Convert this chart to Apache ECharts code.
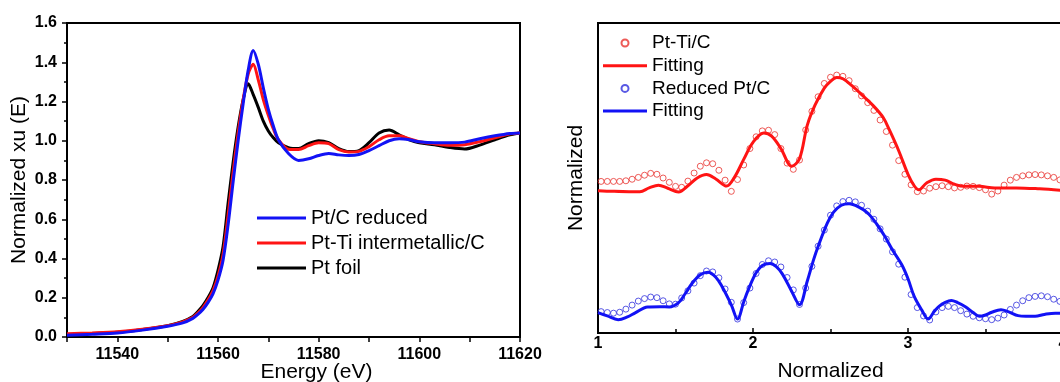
<!DOCTYPE html>
<html>
<head>
<meta charset="utf-8">
<script src="https://cdn.jsdelivr.net/npm/echarts@6/dist/echarts.min.js"></script>
<style>
  html, body { margin: 0; background: #fff; }
  #chart { width: 1060px; height: 382px; }
</style>
</head>
<body>
<div id="chart"></div>
<script>
// left panel: XANES, energy in eV
const energy = [11530, 11535, 11540, 11545, 11550, 11553, 11555, 11556, 11557, 11558, 11559, 11560,
  11561, 11562, 11563, 11564, 11565, 11566, 11567, 11568, 11569, 11570, 11571, 11572, 11574, 11576,
  11578, 11580, 11582, 11584, 11586, 11588, 11590, 11592, 11594, 11596, 11598, 11600, 11603, 11606,
  11609, 11612, 11615, 11618, 11620];
const ptFoil = [0.012, 0.018, 0.024, 0.038, 0.058, 0.080, 0.105, 0.130, 0.160, 0.200, 0.250, 0.340,
  0.460, 0.680, 0.890, 1.070, 1.210, 1.290, 1.235, 1.170, 1.100, 1.050, 1.015, 0.990, 0.965, 0.960,
  0.985, 1.000, 0.990, 0.960, 0.945, 0.950, 0.990, 1.040, 1.055, 1.030, 1.005, 0.990, 0.980, 0.966,
  0.958, 0.978, 1.005, 1.030, 1.040];
const ptTi = [0.017, 0.021, 0.027, 0.040, 0.058, 0.077, 0.100, 0.122, 0.150, 0.188, 0.235, 0.310,
  0.420, 0.620, 0.840, 1.040, 1.210, 1.340, 1.390, 1.310, 1.210, 1.130, 1.060, 1.005, 0.957, 0.955,
  0.975, 0.990, 0.985, 0.955, 0.943, 0.946, 0.970, 1.005, 1.025, 1.025, 1.010, 0.995, 0.985, 0.977,
  0.980, 0.995, 1.015, 1.035, 1.040];
const ptcReduced = [0.009, 0.014, 0.020, 0.035, 0.055, 0.072, 0.095, 0.115, 0.140, 0.175, 0.220, 0.290,
  0.390, 0.570, 0.790, 1.000, 1.190, 1.360, 1.460, 1.390, 1.270, 1.160, 1.075, 1.005, 0.935, 0.900,
  0.908, 0.925, 0.935, 0.928, 0.925, 0.930, 0.950, 0.975, 1.000, 1.010, 1.005, 0.995, 0.990, 0.990,
  0.993, 1.010, 1.025, 1.037, 1.040];

// right panel: measured points (circles)
const kData = [1.02, 1.06, 1.10, 1.14, 1.18, 1.22, 1.26, 1.30, 1.34, 1.38, 1.42, 1.46, 1.50, 1.54,
  1.58, 1.62, 1.66, 1.70, 1.74, 1.78, 1.82, 1.86, 1.90, 1.94, 1.98, 2.02, 2.06, 2.10, 2.14, 2.18,
  2.22, 2.26, 2.30, 2.34, 2.38, 2.42, 2.46, 2.50, 2.54, 2.58, 2.62, 2.66, 2.70, 2.74, 2.78, 2.82,
  2.86, 2.90, 2.94, 2.98, 3.02, 3.06, 3.10, 3.14, 3.18, 3.22, 3.26, 3.30, 3.34, 3.38, 3.42, 3.46,
  3.50, 3.54, 3.58, 3.62, 3.66, 3.70, 3.74, 3.78, 3.82, 3.86, 3.90, 3.94, 3.98];
const ptTiPts = [4.89, 4.89, 4.89, 4.89, 4.91, 4.96, 5.02, 5.09, 5.15, 5.12, 5.00, 4.86, 4.73, 4.70,
  4.90, 5.16, 5.38, 5.49, 5.46, 5.25, 4.93, 4.57, 4.95, 5.42, 5.95, 6.33, 6.52, 6.54, 6.40, 5.95,
  5.48, 5.28, 5.58, 6.55, 7.15, 7.62, 8.05, 8.25, 8.32, 8.28, 8.14, 7.88, 7.65, 7.43, 7.18, 6.87,
  6.50, 6.06, 5.56, 5.12, 4.78, 4.56, 4.58, 4.67, 4.72, 4.75, 4.72, 4.68, 4.70, 4.74, 4.73, 4.69,
  4.62, 4.48, 4.58, 4.77, 4.93, 5.02, 5.07, 5.10, 5.11, 5.10, 5.07, 5.02, 4.94];
const ptcPts = [0.69, 0.66, 0.64, 0.67, 0.77, 0.90, 1.03, 1.11, 1.16, 1.14, 1.04, 0.94, 0.93, 1.13,
  1.36, 1.61, 1.85, 2.00, 1.97, 1.78, 1.42, 0.99, 0.45, 0.98, 1.45, 1.92, 2.21, 2.33, 2.29, 2.13,
  1.79, 1.39, 0.92, 1.45, 2.15, 2.80, 3.32, 3.80, 4.10, 4.24, 4.28, 4.23, 4.12, 3.93, 3.67, 3.36,
  3.03, 2.62, 2.22, 1.80, 1.24, 0.82, 0.55, 0.42, 0.68, 0.82, 0.86, 0.82, 0.72, 0.61, 0.54, 0.49,
  0.46, 0.43, 0.48, 0.58, 0.76, 0.90, 1.04, 1.14, 1.18, 1.20, 1.17, 1.09, 1.02];

// right panel: fitted curves
const ptTiFitK = [1.00, 1.10, 1.20, 1.27, 1.33, 1.39, 1.45, 1.52, 1.58, 1.64, 1.70, 1.76, 1.83, 1.88,
  1.94, 2.00, 2.07, 2.12, 2.18, 2.25, 2.30, 2.35, 2.40, 2.46, 2.50, 2.54, 2.58, 2.64, 2.72, 2.78,
  2.84, 2.88, 2.94, 3.00, 3.04, 3.07, 3.12, 3.18, 3.24, 3.30, 3.36, 3.46, 3.56, 3.70, 3.85, 4.00];
const ptTiFit = [4.59, 4.57, 4.56, 4.56, 4.68, 4.77, 4.67, 4.55, 4.75, 5.00, 5.11, 4.97, 4.74, 5.02,
  5.60, 6.15, 6.45, 6.35, 5.95, 5.38, 5.62, 6.70, 7.35, 7.90, 8.12, 8.24, 8.20, 7.97, 7.60, 7.31,
  6.95, 6.55, 5.88, 5.12, 4.75, 4.62, 4.84, 4.96, 4.93, 4.80, 4.73, 4.73, 4.68, 4.68, 4.65, 4.60];
const ptcFitK = [1.00, 1.06, 1.13, 1.19, 1.24, 1.32, 1.40, 1.46, 1.52, 1.56, 1.61, 1.66, 1.71, 1.76,
  1.80, 1.86, 1.90, 1.94, 1.97, 2.02, 2.06, 2.11, 2.15, 2.19, 2.25, 2.30, 2.35, 2.39, 2.42, 2.48,
  2.52, 2.57, 2.62, 2.68, 2.74, 2.80, 2.85, 2.90, 2.96, 3.00, 3.04, 3.09, 3.13, 3.17, 3.20, 3.24,
  3.28, 3.32, 3.37, 3.42, 3.46, 3.50, 3.54, 3.60, 3.65, 3.71, 3.76, 3.82, 3.88, 3.95, 4.00];
const ptcFit = [0.66, 0.55, 0.43, 0.52, 0.65, 0.84, 0.85, 0.84, 0.98, 1.25, 1.62, 1.88, 1.96, 1.80,
  1.50, 0.91, 0.45, 1.00, 1.40, 1.94, 2.18, 2.24, 2.14, 1.90, 1.34, 0.91, 1.67, 2.35, 2.79, 3.55,
  3.90, 4.12, 4.17, 4.07, 3.87, 3.50, 3.12, 2.68, 2.20, 1.75, 1.18, 0.73, 0.45, 0.70, 0.86, 0.99,
  1.05, 0.98, 0.85, 0.66, 0.54, 0.58, 0.67, 0.75, 0.68, 0.56, 0.54, 0.54, 0.60, 0.64, 0.63];

const FONT = '"Liberation Sans", Arial, sans-serif';
const RED = '#ff1414';
const BLUE = '#1212f5';
const BAR = 'path://M0,0H44V3H0Z';
const zip = (xs, ys) => xs.map((x, i) => [x, ys[i]]);

const axisLine = { lineStyle: { color: '#000', width: 2 } };
const boldLabel = { color: '#000', fontWeight: 'bold', fontSize: 16, fontFamily: FONT };
const nameStyle = { color: '#000', fontSize: 21, fontFamily: FONT };

const chart = echarts.init(document.getElementById('chart'));
chart.setOption({
  animation: false,
  backgroundColor: '#fff',
  grid: [
    { left: 67, right: 540, top: 23, bottom: 45, show: true, borderColor: '#000', borderWidth: 2,
      outerBoundsMode: 'none' },
    { left: 598, right: -3, top: 23, bottom: 49, show: true, borderColor: '#000', borderWidth: 2,
      outerBoundsMode: 'none' },
  ],
  legend: [
    {
      data: [
        { name: 'Pt/C reduced', icon: 'rect' },
        { name: 'Pt-Ti intermetallic/C', icon: 'rect' },
        { name: 'Pt foil', icon: 'rect' },
      ],
      orient: 'vertical', left: 257, top: 208, padding: 0,
      itemWidth: 49, itemHeight: 3, itemGap: 5,
      selectedMode: false,
      textStyle: { color: '#000', fontSize: 20, lineHeight: 20, fontFamily: FONT },
    },
    {
      data: [
        { name: 'Pt-Ti/C', icon: 'circle' },
        { name: 'Fitting', icon: BAR },
        { name: 'Reduced Pt/C', icon: 'circle' },
        { name: 'Fitting ', icon: BAR },
      ],
      orient: 'vertical', left: 603, top: 33.5, padding: 0,
      itemWidth: 44, itemHeight: 7, itemGap: 3.7,
      selectedMode: false,
      textStyle: { color: '#000', fontSize: 19, lineHeight: 19, fontFamily: FONT },
    },
  ],
  xAxis: [
    {
      gridIndex: 0, type: 'value', min: 11530, max: 11620, interval: 10,
      axisLine, splitLine: { show: false },
      axisTick: { length: 5, lineStyle: { width: 1.5 } },
      axisLabel: { ...boldLabel, margin: 10, formatter: (v) => (v % 20 === 0 ? String(v) : '') },
      name: 'Energy (eV)', nameLocation: 'middle', nameGap: 25, nameMoveOverlap: false,
      nameTextStyle: { ...nameStyle, padding: [0, 0, 0, 46] },
    },
    {
      gridIndex: 1, type: 'value', min: 1, max: 4, interval: 1,
      axisLine, splitLine: { show: false },
      axisTick: { inside: true, length: 5, lineStyle: { width: 1.5 } },
      minorTick: { show: true, splitNumber: 2, length: 4, lineStyle: { color: '#000', width: 1.5 } },
      axisLabel: { ...boldLabel, margin: 3 },
      name: 'Normalized', nameLocation: 'middle', nameGap: 28, nameMoveOverlap: false,
      nameTextStyle: nameStyle,
    },
  ],
  yAxis: [
    {
      gridIndex: 0, type: 'value', min: 0, max: 1.6, interval: 0.2,
      axisLine, splitLine: { show: false },
      axisTick: { length: 5, lineStyle: { width: 1.5 } },
      minorTick: { show: true, splitNumber: 2, length: 3, lineStyle: { color: '#000', width: 1.5 } },
      axisLabel: { ...boldLabel, margin: 10, formatter: (v) => v.toFixed(1) },
      name: 'Normalized xu (E)', nameLocation: 'middle', nameGap: 37, nameTextStyle: nameStyle,
    },
    {
      gridIndex: 1, type: 'value', min: 0, max: 10,
      axisLine, splitLine: { show: false },
      axisTick: { show: false }, axisLabel: { show: false },
      name: 'Normalized', nameLocation: 'middle', nameGap: 11, nameTextStyle: nameStyle,
    },
  ],
  series: [
    {
      name: 'Pt foil', type: 'line', xAxisIndex: 0, yAxisIndex: 0, color: '#000',
      data: zip(energy, ptFoil), symbol: 'none', smooth: 0.3, lineStyle: { width: 3 },
    },
    {
      name: 'Pt-Ti intermetallic/C', type: 'line', xAxisIndex: 0, yAxisIndex: 0, color: RED,
      data: zip(energy, ptTi), symbol: 'none', smooth: 0.3, lineStyle: { width: 3 },
    },
    {
      name: 'Pt/C reduced', type: 'line', xAxisIndex: 0, yAxisIndex: 0, color: BLUE,
      data: zip(energy, ptcReduced), symbol: 'none', smooth: 0.3, lineStyle: { width: 3 },
    },
    {
      name: 'Pt-Ti/C', type: 'scatter', xAxisIndex: 1, yAxisIndex: 1,
      data: zip(kData, ptTiPts), symbol: 'circle', symbolSize: 6,
      itemStyle: { color: 'rgba(0,0,0,0)', borderColor: '#e8322e', borderWidth: 1 },
    },
    {
      name: 'Fitting', type: 'line', xAxisIndex: 1, yAxisIndex: 1, color: RED,
      data: zip(ptTiFitK, ptTiFit), symbol: 'none', smooth: 0.35, lineStyle: { width: 3 },
    },
    {
      name: 'Reduced Pt/C', type: 'scatter', xAxisIndex: 1, yAxisIndex: 1,
      data: zip(kData, ptcPts), symbol: 'circle', symbolSize: 6,
      itemStyle: { color: 'rgba(0,0,0,0)', borderColor: '#3030dd', borderWidth: 1 },
    },
    {
      name: 'Fitting ', type: 'line', xAxisIndex: 1, yAxisIndex: 1, color: BLUE,
      data: zip(ptcFitK, ptcFit), symbol: 'none', smooth: 0.35, lineStyle: { width: 3 },
    },
  ],
});
</script>
</body>
</html>
